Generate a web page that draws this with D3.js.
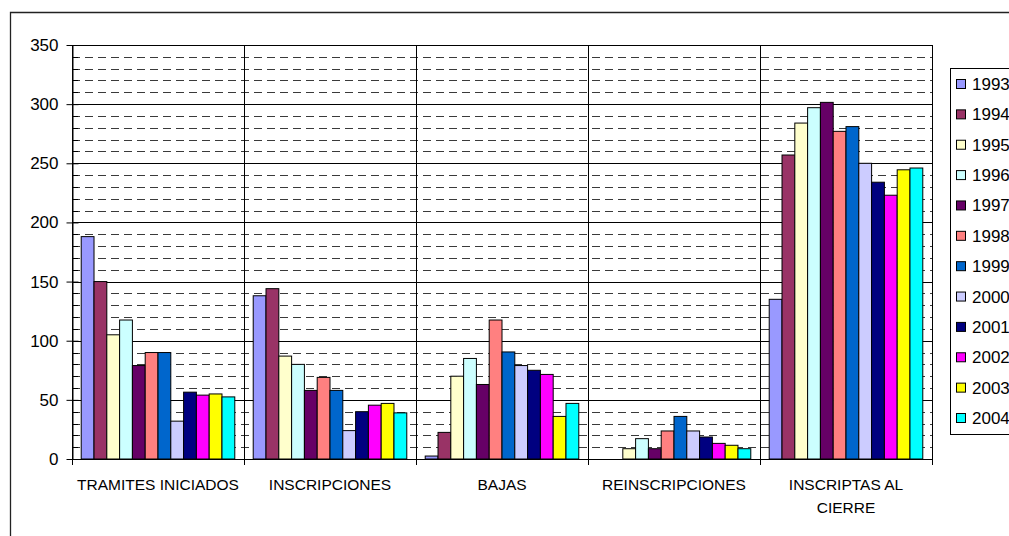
<!DOCTYPE html>
<html>
<head>
<meta charset="utf-8">
<script src="https://cdn.jsdelivr.net/npm/d3@7/dist/d3.min.js"></script>
<style>
  html, body { margin: 0; padding: 0; background: #fff; }
  svg { display: block; font-family: Arial, "Liberation Sans", sans-serif; }
</style>
</head>
<body>
<svg id="chart" width="1009" height="536"></svg>
<script>
const categories = ["TRAMITES INICIADOS", "INSCRIPCIONES", "BAJAS", "REINSCRIPCIONES", "INSCRIPTAS AL CIERRE"];
const years = ["1993", "1994", "1995", "1996", "1997", "1998", "1999", "2000", "2001", "2002", "2003", "2004"];
const colors = ["#9999FF", "#993366", "#FFFFCC", "#CCFFFF", "#660066", "#FF8080", "#0066CC", "#CCCCFF", "#000080", "#FF00FF", "#FFFF00", "#00FFFF"];
// values per year, in category order
const v1993 = [188, 138, 2.5, 0, 135];
const v1994 = [150, 144, 22.5, 0, 257];
const v1995 = [105, 87, 70, 8.7, 284];
const v1996 = [117.5, 80, 85, 17.2, 297];
const v1997 = [79, 58, 63, 8.7, 301.5];
const v1998 = [90, 69, 117.5, 23.7, 277];
const v1999 = [90, 58, 90.5, 36, 281];
const v2000 = [32, 24, 79, 23.7, 250];
const v2001 = [56.5, 40, 75, 18.6, 234];
const v2002 = [54, 45.5, 71.5, 13.2, 223];
const v2003 = [55, 47, 36, 11.6, 244.5];
const v2004 = [52.5, 39, 47, 8.7, 246];
const seriesValues = [v1993, v1994, v1995, v1996, v1997, v1998, v1999, v2000, v2001, v2002, v2003, v2004];
const yTicks = [0, 50, 100, 150, 200, 250, 300, 350];

(function () {
const svg = d3.select("#chart");
const pL = 72, pR = 932, pT = 45, pB = 459;

// outer chart frame
svg.append("path").attr("d", `M10.5,600 V12.5 H1100`).attr("fill", "none").attr("stroke", "#222").attr("stroke-width", 1.3);

const y = d3.scaleLinear().domain([0, 350]).range([pB, pT]);
const x0 = d3.scaleBand().domain(categories).range([pL, pR]).padding(0);
const x1 = d3.scaleBand().domain(years).range([0, x0.bandwidth()]).paddingInner(0).paddingOuter(0.72);

const g = svg.append("g");

// minor dashed gridlines
const minor = d3.range(10, 350, 10).filter(v => v % 50 !== 0);
g.selectAll("line.minor").data(minor).join("line")
  .attr("x1", pL).attr("x2", pR)
  .attr("y1", d => Math.round(y(d)) + 0.5).attr("y2", d => Math.round(y(d)) + 0.5)
  .attr("stroke", "#3a3a3a").attr("stroke-dasharray", "8,5");
// minor tick marks on axis (inside)
g.selectAll("line.mtick").data(minor).join("line")
  .attr("x1", pL).attr("x2", pL + 6)
  .attr("y1", d => Math.round(y(d)) + 0.5).attr("y2", d => Math.round(y(d)) + 0.5)
  .attr("stroke", "#000");
// major solid gridlines
g.selectAll("line.major").data(yTicks.filter(d => d > 0)).join("line")
  .attr("x1", pL).attr("x2", pR)
  .attr("y1", d => Math.round(y(d)) + 0.5).attr("y2", d => Math.round(y(d)) + 0.5)
  .attr("stroke", "#000");
// category separators
const seps = categories.map(c => x0(c)).concat([pR]);
g.selectAll("line.sep").data(seps).join("line")
  .attr("x1", d => Math.round(d) + 0.5).attr("x2", d => Math.round(d) + 0.5)
  .attr("y1", pT).attr("y2", pB + 6)
  .attr("stroke", "#000");

// bars
categories.forEach((cat, ci) => {
  const grp = svg.append("g").attr("transform", `translate(${x0(cat)},0)`);
  years.forEach((yr, yi) => {
    const v = seriesValues[yi][ci];
    if (v <= 0) return;
    grp.append("rect")
      .attr("x", x1(yr)).attr("width", x1.bandwidth())
      .attr("y", y(v)).attr("height", y(0) - y(v))
      .attr("fill", colors[yi]).attr("stroke", "#000").attr("stroke-width", 1);
  });
});

// y axis
const yAxis = d3.axisLeft(y).tickValues(yTicks).tickSize(6).tickSizeOuter(0).tickPadding(8);
const ya = svg.append("g").attr("transform", `translate(${pL + 0.5},0)`).call(yAxis);
ya.select(".domain").attr("stroke", "#000");
ya.selectAll(".tick line").attr("x2", -6).attr("stroke", "#000");
ya.selectAll(".tick").append("line").attr("x1", 0).attr("x2", 6).attr("stroke", "#000");
ya.selectAll(".tick text").attr("font-size", 17).attr("fill", "#000").attr("x", -14)
  .attr("font-family", "Arial, 'Liberation Sans', sans-serif");

// x axis baseline
svg.append("line").attr("x1", pL).attr("x2", pR + 0.5)
  .attr("y1", pB + 0.5).attr("y2", pB + 0.5).attr("stroke", "#000");

// category labels
const xAxis = d3.axisBottom(x0).tickSize(0).tickPadding(0);
const xa = svg.append("g").attr("transform", `translate(0,${pB})`).call(xAxis);
xa.select(".domain").remove();
xa.selectAll(".tick text").each(function(d) {
  const t = d3.select(this);
  t.text(null).attr("font-size", 15.5).attr("fill", "#000").attr("dy", null).attr("y", 31)
    .attr("font-family", "Arial, 'Liberation Sans', sans-serif");
  const words = d.split(" ");
  const lines = [];
  let cur = "";
  words.forEach(w => {
    const test = cur ? cur + " " + w : w;
    if (test.length > 18 && cur) { lines.push(cur); cur = w; } else cur = test;
  });
  lines.push(cur);
  lines.forEach((ln, i) => {
    t.append("tspan").attr("x", 0).attr("y", 31 + i * 23).text(ln);
  });
});

// legend
const lg = svg.append("g");
lg.append("rect").attr("x", 950.5).attr("y", 68.5).attr("width", 80).attr("height", 366)
  .attr("fill", "#fff").attr("stroke", "#000");
const ly = d3.scalePoint().domain(years).range([84, 418]);
years.forEach((yr, i) => {
  lg.append("rect").attr("x", 956.5).attr("y", ly(yr) - 4.5).attr("width", 9).attr("height", 9)
    .attr("fill", colors[i]).attr("stroke", "#000");
  lg.append("text").attr("x", 972).attr("y", ly(yr) + 6).attr("font-size", 17).text(yr);
});
})();
</script>
</body>
</html>
